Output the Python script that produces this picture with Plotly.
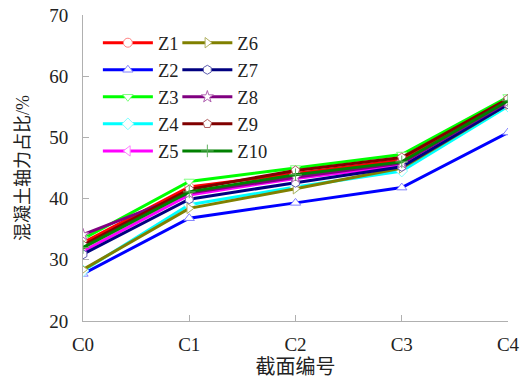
import plotly.graph_objects as go

categories = ["C0", "C1", "C2", "C3", "C4"]
series_names = ["Z1", "Z2", "Z3", "Z4", "Z5", "Z6", "Z7", "Z8", "Z9", "Z10"]
Z1 = [32.8, 41.9, 44.1, 46.3, 56.2]
Z2 = [27.7, 36.8, 39.3, 41.8, 50.8]
Z3 = [33.4, 42.8, 45.0, 47.2, 56.6]
Z4 = [28.2, 39.0, 41.9, 44.5, 55.1]
Z5 = [31.4, 40.6, 43.3, 45.4, 55.6]
Z6 = [28.4, 38.4, 41.6, 45.0, 55.4]
Z7 = [30.9, 39.9, 42.6, 45.2, 55.4]
Z8 = [34.1, 40.9, 43.5, 45.8, 55.8]
Z9 = [32.4, 41.5, 44.6, 46.7, 56.3]
Z10 = [32.0, 41.1, 43.9, 46.0, 56.0]
values = [Z1, Z2, Z3, Z4, Z5, Z6, Z7, Z8, Z9, Z10]

line_colors = ["#FF0000", "#0000FF", "#00FF00", "#00FFFF", "#FF00FF",
               "#808000", "#000080", "#800080", "#800000", "#008000"]
marker_colors = ["#FF8080", "#8080FF", "#80FF80", "#80FFFF", "#FF80FF",
                 "#B0B060", "#6060B0", "#B060B0", "#B06060", "#60B060"]
symbols = ["circle", "triangle-up", "triangle-down", "diamond", "triangle-left",
           "triangle-right", "hexagon", "star", "pentagon", "cross-thin"]

serif = "'Liberation Serif', 'Times New Roman', serif"
cjk = "'Liberation Serif', 'Noto Sans CJK SC', serif"
fig = go.Figure()
xi = list(range(len(categories)))
for i, (name, vals) in enumerate(zip(series_names, values)):
    sym = symbols[i]
    fig.add_trace(go.Scatter(
        x=xi, y=vals, name=name, mode="lines+markers",
        line=dict(color=line_colors[i], width=3),
        marker=dict(symbol=sym, size=9,
                    color="white" if sym != "cross-thin" else marker_colors[i],
                    line=dict(color=marker_colors[i], width=1)),
        legend="legend" if i < 5 else "legend2",
        legendgroup=name,
    ))

legend_common = dict(font=dict(family=serif, size=18.5, color="#222"),
                     bgcolor="rgba(0,0,0,0)", tracegroupgap=0,
                     itemwidth=50,
                     yanchor="top", xanchor="left")
fig.update_layout(
    width=531, height=383,
    margin=dict(l=83, r=23, t=15, b=62),
    plot_bgcolor="white", paper_bgcolor="white",
    font=dict(family=serif, size=19, color="#222"),
    showlegend=True,
    legend=dict(x=0.035, y=0.97, **legend_common),
    legend2=dict(x=0.222, y=0.97, **legend_common),
    xaxis=dict(range=[0, 4], tickvals=xi, ticktext=categories,
               showline=True, linecolor="#b0b0b0", linewidth=1,
               ticks="inside", ticklen=6, tickcolor="#b0b0b0",
               showgrid=False, zeroline=False, automargin=False,
               ticklabelstandoff=6,
               title=dict(text="截面编号", font=dict(family=cjk, size=20), standoff=6)),
    yaxis=dict(range=[20, 70], dtick=10,
               showline=True, linecolor="#b0b0b0", linewidth=1,
               ticks="inside", ticklen=6, tickcolor="#b0b0b0",
               showgrid=False, zeroline=False, automargin=False,
               ticklabelstandoff=10,
               title=dict(text="混凝土轴力占比/%", font=dict(family=cjk, size=18), standoff=14)),
)
fig.write_html("out.html")
